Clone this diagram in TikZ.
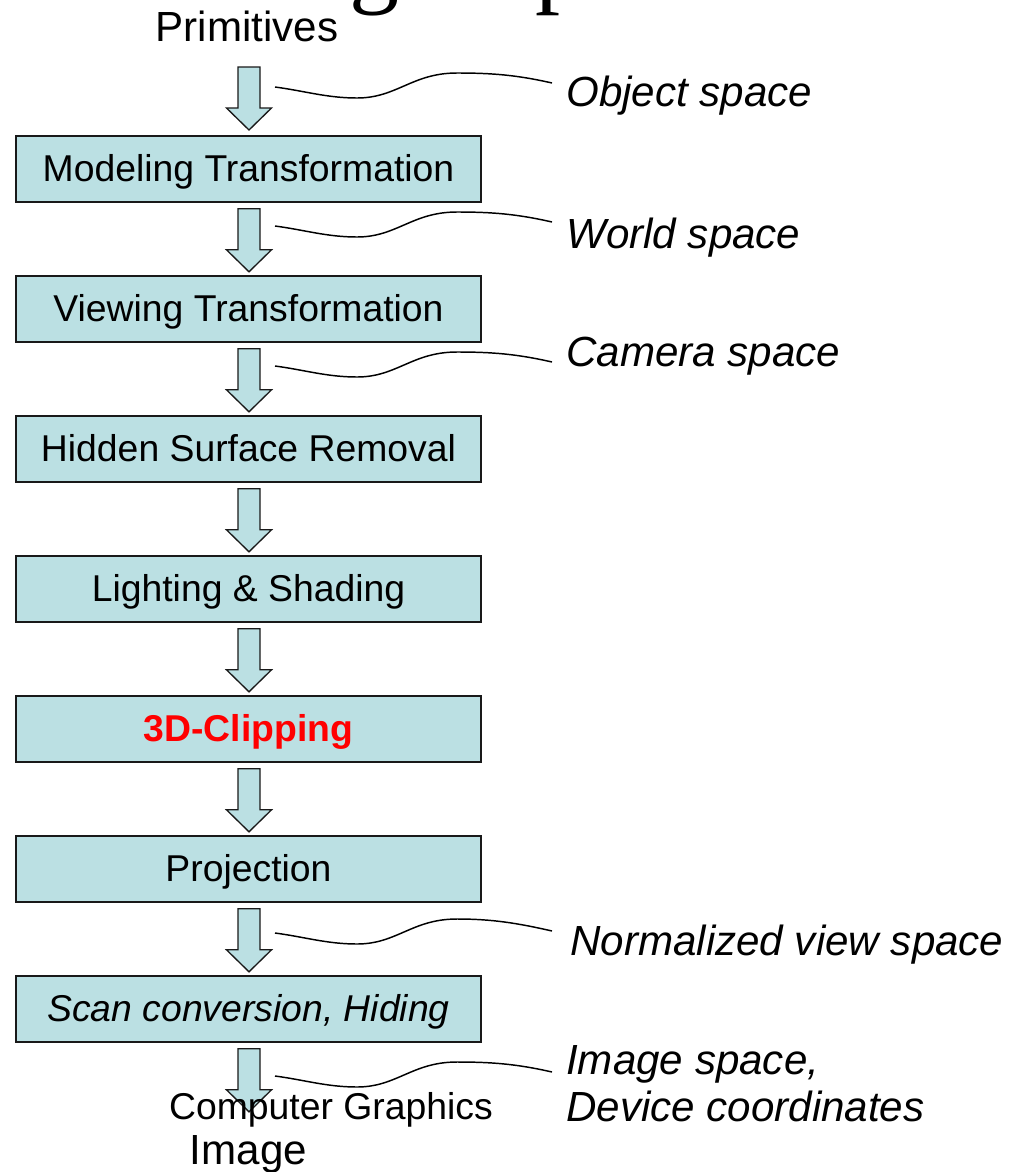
\documentclass[tikz,border=0pt]{standalone}
\usepackage{fontspec}
\setmainfont{Liberation Sans}
\newfontfamily\titlefont{Liberation Serif}
\definecolor{boxfill}{RGB}{187,224,227}
\newcommand\barrowat[1]{\draw[barrow] #1 ++(-11,0) -- ++(22,0) -- ++(0,41) -- ++(11.5,0) -- ++(-22.5,22) -- ++(-22.5,-22) -- ++(11.5,0) -- cycle;}
\newcommand\wavyconn[2]{\draw[conn] (#1) .. controls +(30,4) and +(-30,0) .. ++(82,11) .. controls +(40,0) and +(-45,0) .. ++(100,-25) .. controls +(35,0) and +(-35,-8) .. (#2);}
\begin{document}
\begin{tikzpicture}[x=0.75pt,y=-0.75pt,
  stage/.style={draw=black!90, line width=1.2pt, fill=boxfill, minimum width=348.75pt, minimum height=49.5pt, inner sep=0pt, text height=20pt, text depth=2pt, font=\fontsize{28}{33.6}\selectfont},
  barrow/.style={draw=black!90, line width=1pt, fill=boxfill, line join=miter},
  conn/.style={draw=black, line width=1.1pt},
  lbl/.style={anchor=base west, inner sep=0pt, font=\itshape\fontsize{31.6}{35.25}\selectfont},
  plain/.style={anchor=base, inner sep=0pt, font=\fontsize{31.6}{35.25}\selectfont}]
\useasboundingbox (0,0) rectangle (1014,1172);
\fill[white] (0,0) rectangle (1014,1172);

% cut-off title fragments
\begin{scope}
\clip (0,0) rectangle (1014,1172);
\node[anchor=base west, inner sep=0pt, font=\titlefont\fontsize{75}{90}\selectfont] (tg) at (349,-6) {g};
\node[anchor=base west, inner sep=0pt, font=\titlefont\fontsize{75}{90}\selectfont] (tp) at (535,-6) {p};
\end{scope}

% stages
\node[plain] (prim) at (247,41) {Primitives};
\node[stage] (b1) at (248.5,169) {Modeling Transformation};
\node[stage] (b2) at (248.5,309) {Viewing Transformation};
\node[stage] (b3) at (248.5,449) {Hidden Surface Removal};
\node[stage] (b4) at (248.5,589) {Lighting \& Shading};
\node[stage, text=red, font=\bfseries\fontsize{28}{33.6}\selectfont] (b5) at (248.5,729) {3D-Clipping};
\node[stage] (b6) at (248.5,869) {Projection};
\node[stage, font=\itshape\fontsize{28}{33.6}\selectfont] (b7) at (248.5,1009) {Scan conversion, Hiding};

% block arrows
\coordinate (a0) at (249,67);
\barrowat{(a0)}
\barrowat{(b1.south) ++(0.5,6)}
\barrowat{(b2.south) ++(0.5,6)}
\barrowat{(b3.south) ++(0.5,6)}
\barrowat{(b4.south) ++(0.5,6)}
\barrowat{(b5.south) ++(0.5,6)}
\barrowat{(b6.south) ++(0.5,6)}
\barrowat{(b7.south) ++(0.5,6)}

% bottom texts
\node[anchor=base, inner sep=0pt, font=\fontsize{28}{33.6}\selectfont] (cg) at (331,1119) {Computer Graphics};
\node[plain] (img) at (248.5,1164) {Image};

% space connectors
\coordinate (s1) at (275,87);   \coordinate (e1) at (552,83);
\coordinate (s2) at (275,226);  \coordinate (e2) at (552,222);
\coordinate (s3) at (275,366);  \coordinate (e3) at (552,362);
\coordinate (s4) at (275,933);  \coordinate (e4) at (552,931);
\coordinate (s5) at (275,1076); \coordinate (e5) at (552,1072);
\wavyconn{s1}{e1}
\wavyconn{s2}{e2}
\wavyconn{s3}{e3}
\wavyconn{s4}{e4}
\wavyconn{s5}{e5}

% space labels
\node[lbl] (l1) at (566,106) {Object space};
\node[lbl] (l2) at (566,248) {World space};
\node[lbl] (l3) at (566,366) {Camera space};
\node[lbl] (l4) at (570,955) {Normalized view space};
\node[lbl, anchor=north west, align=left] (l5) at (566,1045) {Image space,\\Device coordinates};
\end{tikzpicture}
\end{document}
